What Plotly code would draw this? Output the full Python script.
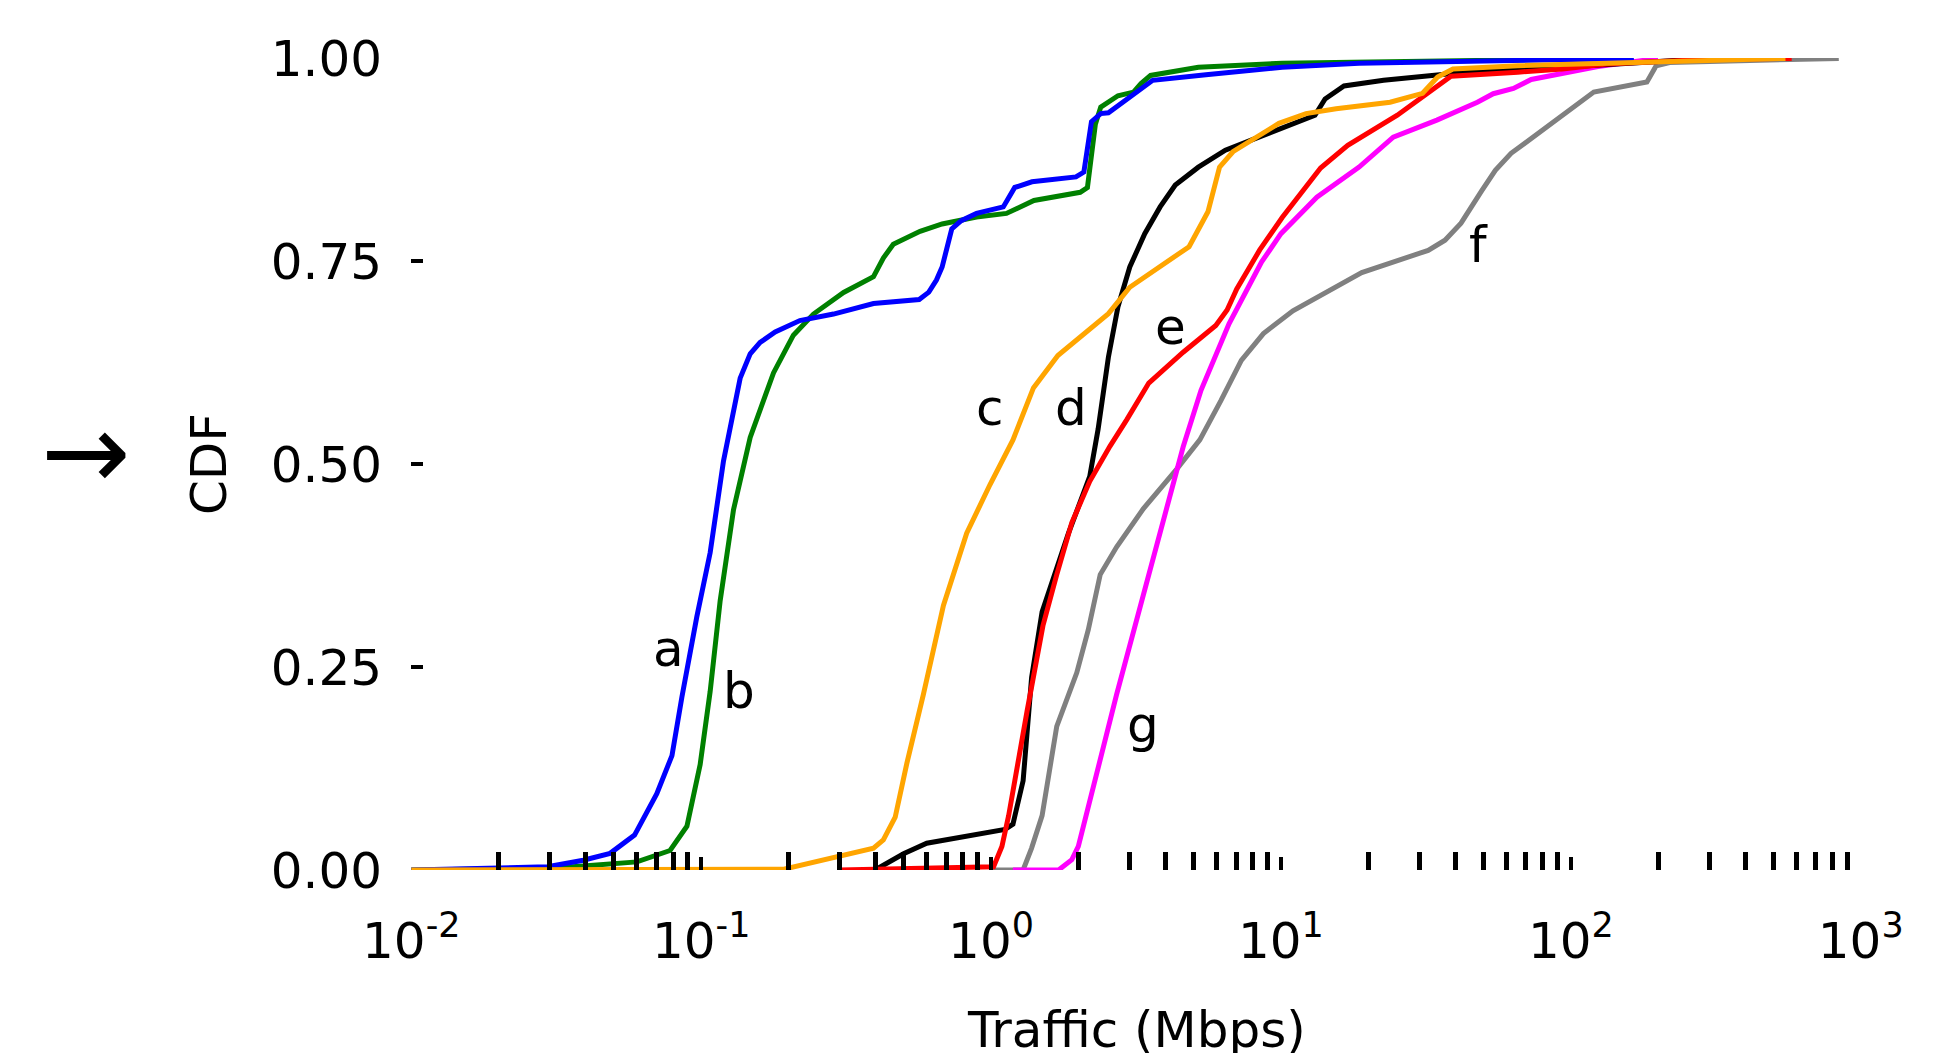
import math
import plotly.graph_objects as go

# ---- data ----
a_x = [0.01, 0.0295, 0.0392, 0.0485, 0.0589, 0.0703, 0.0793, 0.0858, 0.0966, 0.1074, 0.1194, 0.1293,
       0.1363, 0.1476, 0.1597, 0.180, 0.219, 0.286, 0.393, 0.565, 0.610, 0.648, 0.678, 0.732, 0.789,
       0.891, 1.102, 1.207, 1.384, 1.963, 2.09, 2.22, 2.39, 2.54, 3.01, 3.61, 5.51, 10.1, 18.6, 57, 165]
a_y = [0.0, 0.004, 0.012, 0.0205, 0.043, 0.094, 0.141, 0.213, 0.312, 0.391, 0.504, 0.563,
       0.606, 0.636, 0.650, 0.663, 0.677, 0.685, 0.698, 0.703, 0.712, 0.727, 0.743, 0.790, 0.800,
       0.809, 0.817, 0.841, 0.848, 0.854, 0.860, 0.922, 0.932, 0.933, 0.952, 0.973, 0.980, 0.989, 0.994, 0.997, 1.0]

b_x = [0.01, 0.0295, 0.0392, 0.060, 0.0781, 0.0893, 0.0992, 0.1074, 0.1163, 0.1293, 0.1476, 0.1776,
       0.208, 0.244, 0.310, 0.393, 0.425, 0.460, 0.569, 0.678, 0.891, 1.130, 1.406, 2.03, 2.15, 2.29,
       2.39, 2.74, 3.10, 3.29, 3.55, 5.19, 10.1, 57, 150]
b_y = [0.0, 0.002, 0.005, 0.010, 0.024, 0.054, 0.130, 0.220, 0.332, 0.444, 0.533, 0.6125,
       0.659, 0.685, 0.7116, 0.731, 0.754, 0.771, 0.787, 0.796, 0.8046, 0.809, 0.825, 0.835, 0.841, 0.919,
       0.940, 0.954, 0.9585, 0.969, 0.979, 0.989, 0.994, 0.997, 1.0]

c_x = [0.01, 0.193, 0.393, 0.425, 0.467, 0.512, 0.584, 0.685, 0.824, 0.992, 1.19, 1.40, 1.70, 2.54,
       3.01, 4.82, 5.60, 6.14, 6.83, 7.94, 9.84, 12.2, 15.5, 23.8, 30.8, 34.7, 39.2, 65.6, 133, 271, 550]
c_y = [0.0, 0.001, 0.027, 0.037, 0.065, 0.131, 0.216, 0.326, 0.415, 0.475, 0.530, 0.594, 0.634, 0.6855,
       0.718, 0.768, 0.811, 0.866, 0.885, 0.899, 0.920, 0.932, 0.938, 0.946, 0.957, 0.977, 0.987, 0.991, 0.994, 0.996, 1.0]

d_x = [0.398, 0.499, 0.600, 0.824, 1.117, 1.19, 1.29, 1.38, 1.50, 1.85, 2.19, 2.34, 2.54, 2.74, 3.01,
       3.39, 3.83, 4.32, 5.19, 6.43, 8.71, 13.1, 14.2, 16.5, 22.6, 34.7, 45.9, 93.5, 159, 300]
d_y = [0.0, 0.020, 0.033, 0.042, 0.050, 0.0565, 0.110, 0.237, 0.318, 0.415, 0.485, 0.543, 0.632, 0.694, 0.743,
       0.784, 0.817, 0.844, 0.866, 0.887, 0.905, 0.930, 0.950, 0.966, 0.973, 0.980, 0.984, 0.989, 0.9935, 1.0]

e_x = [0.30, 1.02, 1.09, 1.15, 1.33, 1.51, 1.685, 1.90, 2.19, 2.57, 2.94, 3.50, 4.60, 5.96, 6.52, 7.04,
       8.45, 10.1, 13.7, 17.0, 25.2, 32.2, 38.6, 65.6, 93.5, 133, 300, 578]
e_y = [0.0, 0.004, 0.029, 0.067, 0.195, 0.301, 0.364, 0.428, 0.479, 0.522, 0.555, 0.600, 0.638, 0.671, 0.690, 0.716,
       0.764, 0.804, 0.865, 0.893, 0.930, 0.957, 0.978, 0.983, 0.987, 0.993, 0.999, 1.0]

f_x = [1.0, 1.29, 1.38, 1.50, 1.685, 1.975, 2.165, 2.38, 2.71, 3.35, 4.37, 5.25, 6.2, 7.3, 8.7, 11.0,
       19.0, 32.2, 36.8, 41.8, 49.3, 54.9, 62.2, 120, 183, 197, 219, 840]
f_y = [0.0, 0.0, 0.027, 0.067, 0.177, 0.243, 0.296, 0.364, 0.398, 0.445, 0.494, 0.530, 0.578, 0.628, 0.661, 0.689,
       0.736, 0.7635, 0.776, 0.797, 0.837, 0.862, 0.883, 0.9585, 0.971, 0.991, 0.995, 1.0]

g_x = [1.19, 1.71, 1.90, 2.0, 2.71, 3.72, 4.60, 5.3, 6.62, 8.57, 10.0, 13.3, 18.6, 24.4, 34.5, 47.6,
       54, 63.4, 73, 124, 200]
g_y = [0.0, 0.0, 0.0127, 0.029, 0.216, 0.398, 0.5215, 0.591, 0.673, 0.749, 0.784, 0.829, 0.866, 0.903, 0.924, 0.946,
       0.9565, 0.963, 0.974, 0.990, 1.0]

series_names = ["a", "b", "c", "d", "e", "f", "g"]
series_colors = ["#0000ff", "#008000", "#ffa500", "#000000", "#ff0000", "#808080", "#ff00ff"]
label_x = [0.0772, 0.1355, 0.993, 1.886, 4.15, 47.9, 3.34]
label_y = [0.2726, 0.2205, 0.5697, 0.5697, 0.669, 0.770, 0.179]

x_tickvals = [0.01, 0.1, 1, 10, 100, 1000]
x_ticktext = ["10<sup>-2</sup>", "10<sup>-1</sup>", "10<sup>0</sup>", "10<sup>1</sup>",
              "10<sup>2</sup>", "10<sup>3</sup>"]
y_tickvals = [0, 0.25, 0.5, 0.75, 1.0]
y_ticktext = ["0.00", "0.25", "0.50", "0.75", "1.00"]
x_title = "Traffic (Mbps)"
y_title = "CDF"

series = {
    "a": (a_x, a_y), "b": (b_x, b_y), "c": (c_x, c_y), "d": (d_x, d_y),
    "e": (e_x, e_y), "f": (f_x, f_y), "g": (g_x, g_y),
}
color_of = dict(zip(series_names, series_colors))
draw_order = ["f", "g", "d", "e", "b", "a", "c"]

FONT = "DejaVu Sans"
FS = 50

fig = go.Figure()
for n in draw_order:
    xs, ys = series[n]
    fig.add_trace(go.Scatter(x=xs, y=ys, mode="lines", name=n,
                             line=dict(color=color_of[n], width=5),
                             cliponaxis=False, showlegend=False))

# curve labels (annotation x on a log axis is given as log10 of the value)
for n, lx, ly in zip(series_names, label_x, label_y):
    fig.add_annotation(x=math.log10(lx), y=ly, xref="x", yref="y", text=n, showarrow=False,
                       xanchor="center", yanchor="middle",
                       font=dict(family=FONT, size=FS, color="black"))

# arrow pointing at the y label
fig.add_annotation(x=-0.2243, y=0.515, xref="paper", yref="paper", text="→", showarrow=False,
                   xanchor="center", yanchor="middle",
                   font=dict(family=FONT, size=107, color="black"))

# x-axis title (placed as an annotation so it can sit at the very bottom edge, as in the reference)
fig.add_annotation(x=0.5, y=-0.197, xref="paper", yref="paper", text=x_title, showarrow=False,
                   xanchor="center", yanchor="middle",
                   font=dict(family=FONT, size=FS, color="black"))

minor_vals = [k * 10.0 ** e for e in range(-2, 3) for k in range(2, 10)]

fig.update_layout(
    width=1940, height=1045,
    margin=dict(l=403, r=87, t=50, b=183),
    paper_bgcolor="white", plot_bgcolor="white",
    font=dict(family=FONT, size=FS, color="black"),
    xaxis=dict(
        type="log", range=[-2.001, 3.001],
        tickmode="array", tickvals=x_tickvals, ticktext=x_ticktext,
        ticks="inside", ticklen=13, tickwidth=4, tickcolor="black",
        minor=dict(tickmode="array", tickvals=minor_vals, ticks="inside",
                   ticklen=18, tickwidth=5, tickcolor="black", showgrid=False),
        showgrid=False, zeroline=False, showline=False,
        tickfont=dict(family=FONT, size=FS, color="black"),
        ticklabelstandoff=37,
        automargin=False,
    ),
    yaxis=dict(
        range=[0, 1.0005],
        tickmode="array", tickvals=y_tickvals, ticktext=y_ticktext,
        ticks="inside", ticklen=12, tickwidth=4, tickcolor="black",
        showgrid=False, zeroline=False, showline=False,
        tickfont=dict(family=FONT, size=FS, color="black"),
        ticklabelstandoff=28,
        title=dict(text=y_title, font=dict(family=FONT, size=FS, color="black"), standoff=28),
        automargin=False,
    ),
)

fig.write_html("out.html")
